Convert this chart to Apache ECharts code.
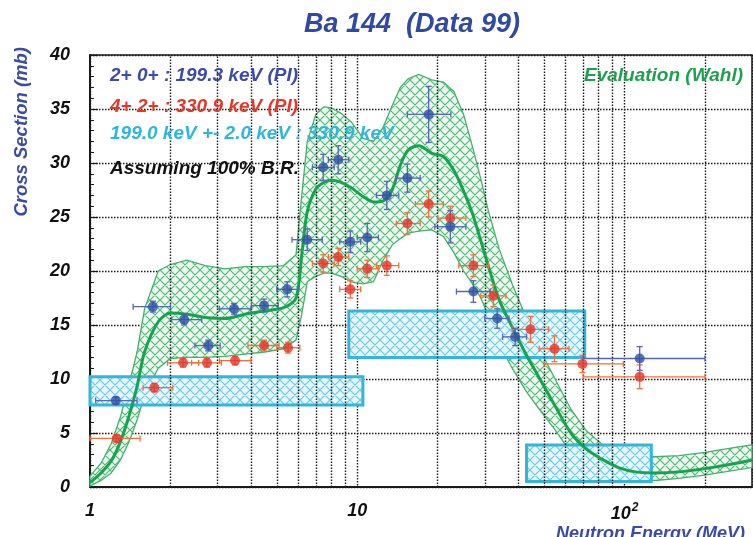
<!DOCTYPE html>
<html>
<head>
<meta charset="utf-8">
<script src="https://cdn.jsdelivr.net/npm/echarts@6/dist/echarts.min.js"></script>
<style>
html, body { margin: 0; padding: 0; background: #fff; }
#chart { width: 753px; height: 537px; }
</style>
</head>
<body>
<div id="chart"></div>
<script>
// Evaluation (Wahl): energy grid (MeV), central curve and uncertainty band (mb)
const evalEnergy = [1.0, 1.1, 1.2, 1.3, 1.4, 1.5, 1.6, 1.8, 2.0, 2.3, 2.7, 3.2, 3.8, 4.5, 5.3, 5.9, 6.2, 6.5, 7.0, 7.5, 8.0, 8.7, 9.5, 10.5, 11.5, 12.5, 13.5, 14.5, 15.5, 17, 19, 21, 23, 25, 27, 29, 31, 34, 38, 43, 48, 55, 63, 72, 82, 95, 110, 130, 160, 200, 250, 300];
const evalCenter = [0.4, 1.3, 2.4, 4.2, 6.6, 9.3, 12.5, 15.3, 16.1, 16.0, 15.7, 15.6, 16.0, 16.3, 16.6, 17.5, 21.5, 25.5, 27.6, 28.2, 28.4, 28.2, 27.7, 26.9, 26.4, 26.5, 27.5, 29.8, 31.2, 31.6, 30.9, 30.6, 29.3, 27.4, 25.3, 22.8, 20.4, 17.3, 14.8, 12.2, 10.1, 7.5, 5.0, 3.5, 2.6, 1.8, 1.4, 1.3, 1.4, 1.7, 2.1, 2.5];
const evalUpper = [1.0, 2.2, 4.0, 6.5, 9.5, 12.5, 16.5, 20.0, 20.6, 21.0, 20.5, 20.2, 20.4, 20.4, 20.5, 21.5, 27.0, 32.0, 34.5, 35.2, 35.1, 34.6, 33.8, 32.3, 32.0, 33.3, 35.3, 37.0, 37.8, 38.2, 37.7, 37.5, 36.6, 34.5, 31.5, 28.5, 25.5, 22.0, 18.8, 15.6, 12.8, 10.0, 7.2, 5.2, 4.0, 3.3, 2.9, 2.8, 2.9, 3.2, 3.6, 3.9];
const evalLower = [0.1, 0.6, 1.3, 2.5, 4.2, 6.2, 8.5, 11.0, 11.9, 12.0, 12.0, 12.1, 12.3, 12.5, 12.8, 13.6, 16.0, 19.0, 19.5, 19.8, 19.8, 19.5, 19.0, 18.8, 19.0, 21.0, 22.4, 23.0, 23.5, 23.7, 23.8, 23.2, 21.7, 20.0, 18.8, 17.5, 15.8, 13.2, 11.0, 8.8, 7.2, 5.3, 3.2, 2.2, 1.6, 1.0, 0.7, 0.6, 0.8, 1.1, 1.5, 1.8];

// 2+ -> 0+ : 199.3 keV line
const blueE     = [1.25, 1.72, 2.25, 2.77, 3.46, 4.48, 5.47, 6.5, 7.46, 8.49, 9.42, 10.9, 12.9, 15.4, 18.5, 22.3, 27.2, 33.4, 39, 114];
const blueSigma = [8.0, 16.7, 15.5, 13.1, 16.5, 16.8, 18.3, 22.9, 29.6, 30.3, 22.7, 23.1, 27.0, 28.6, 34.5, 24.1, 18.1, 15.6, 13.9, 11.9];
const blueELo   = [1.05, 1.45, 2.02, 2.47, 3.05, 4.02, 5.0, 5.7, 6.8, 7.8, 8.6, 10.0, 11.8, 14.0, 15.4, 19.5, 23.5, 30, 35, 70];
const blueEHi   = [1.5, 2.0, 2.62, 3.07, 4.0, 5.06, 6.0, 7.4, 8.2, 9.3, 10.3, 12.0, 14.3, 17.2, 22.4, 25.5, 31.5, 37, 43, 200];
const blueErr   = [0.3, 0.5, 0.5, 0.5, 0.5, 0.6, 0.7, 1.0, 1.2, 1.3, 1.0, 1.3, 1.3, 1.3, 2.6, 1.5, 1.0, 0.9, 0.8, 1.1];

// 4+ -> 2+ : 330.9 keV line
const redE     = [1.26, 1.74, 2.23, 2.74, 3.49, 4.48, 5.51, 7.46, 8.49, 9.42, 10.9, 12.9, 15.4, 18.5, 22.3, 27.2, 32.3, 44.5, 54.7, 69.6, 114];
const redSigma = [4.5, 9.2, 11.5, 11.5, 11.7, 13.1, 12.9, 20.7, 21.3, 18.3, 20.2, 20.5, 24.4, 26.2, 24.9, 20.5, 17.7, 14.6, 12.8, 11.4, 10.2];
const redELo   = [1.0, 1.58, 1.95, 2.4, 3.05, 3.9, 5.0, 6.8, 7.8, 8.6, 10.0, 11.8, 14.0, 16.5, 20.0, 24.0, 29.0, 38, 48, 50, 70];
const redEHi   = [1.54, 2.04, 2.55, 3.1, 4.0, 5.1, 6.1, 8.2, 9.3, 10.3, 12.0, 14.3, 17.2, 21.0, 25.5, 31.0, 36.0, 52, 62, 99, 200];
const redErr   = [0.3, 0.4, 0.4, 0.4, 0.4, 0.5, 0.5, 0.8, 0.8, 0.8, 0.8, 0.9, 1.0, 1.2, 1.1, 1.0, 1.0, 1.2, 1.2, 0.8, 1.1];

// 199.0 keV +- 2.0 keV : 330.9 keV (unresolved doublet), boxes in energy x cross section
const boxELo = [1.0, 9.3, 43];
const boxEHi = [10.5, 71, 126];
const boxSLo = [7.6, 12.0, 0.5];
const boxSHi = [10.2, 16.3, 3.9];

// axis values
const yTicks = [0, 5, 10, 15, 20, 25, 30, 35, 40];
const energyDecades = [1, 10, 100];
const energyMax = 300;
const gridEnergies = [2, 3, 4, 5, 6, 7, 8, 9, 20, 30, 40, 50, 60, 70, 80, 90, 200];

const FONT = '"Liberation Sans", Arial, sans-serif';
const BLUE_TXT = '#3a4aa6';

// cross-hatch tile used as a fill pattern
function hatchTile(bg, line, size, width) {
  const c = document.createElement('canvas');
  c.width = size; c.height = size;
  const g = c.getContext('2d');
  g.fillStyle = bg;
  g.fillRect(0, 0, size, size);
  g.strokeStyle = line;
  g.lineWidth = width;
  g.beginPath();
  for (let k = -1; k <= 1; k++) {
    g.moveTo(k * size, 0); g.lineTo(k * size + size, size);
    g.moveTo(k * size + size, 0); g.lineTo(k * size, size);
  }
  g.stroke();
  return c;
}
const bandPattern = { image: hatchTile('#eef8f0', '#52b978', 10, 1.2), repeat: 'repeat' };
const boxPattern = { image: hatchTile('#e8f7fb', '#6cc9e4', 10, 1.2), repeat: 'repeat' };

const chart = echarts.init(document.getElementById('chart'), null, { renderer: 'canvas' });

function errorBarSeries(E, S, lo, hi, err, barColor, z) {
  return {
    type: 'custom',
    coordinateSystem: 'cartesian2d',
    silent: true,
    z: z,
    encode: { x: [0, 2, 3], y: 1 },
    data: E.map((e, i) => [e, S[i], lo[i], hi[i], err[i]]),
    renderItem(params, api) {
      const e = api.value(0), s = api.value(1);
      const pL = api.coord([api.value(2), s]);
      const pR = api.coord([api.value(3), s]);
      const pT = api.coord([e, s + api.value(4)]);
      const pB = api.coord([e, s - api.value(4)]);
      const st = { stroke: barColor, lineWidth: 1.3 };
      const c = 3;
      return {
        type: 'group',
        children: [
          { type: 'line', shape: { x1: pL[0], y1: pL[1], x2: pR[0], y2: pR[1] }, style: st },
          { type: 'line', shape: { x1: pL[0], y1: pL[1] - c, x2: pL[0], y2: pL[1] + c }, style: st },
          { type: 'line', shape: { x1: pR[0], y1: pR[1] - c, x2: pR[0], y2: pR[1] + c }, style: st },
          { type: 'line', shape: { x1: pT[0], y1: pT[1], x2: pB[0], y2: pB[1] }, style: st },
          { type: 'line', shape: { x1: pT[0] - c, y1: pT[1], x2: pT[0] + c, y2: pT[1] }, style: st },
          { type: 'line', shape: { x1: pB[0] - c, y1: pB[1], x2: pB[0] + c, y2: pB[1] }, style: st }
        ]
      };
    }
  };
}

const dotted = { color: '#1a1a1a', width: 1.4, type: [1.5, 1.5] };
const labelFont = { fontFamily: FONT, fontSize: 18, fontWeight: 'bold', fontStyle: 'italic', color: '#111' };

const option = {
  animation: false,
  backgroundColor: '#ffffff',
  title: {
    text: 'Ba 144  (Data 99)',
    left: 299,
    top: 6,
    textStyle: { fontFamily: FONT, fontSize: 27, fontWeight: 'bold', fontStyle: 'italic', color: '#2f4aa0' }
  },
  grid: {
    left: 90, right: 1, top: 55, bottom: 50,
    outerBoundsMode: 'none',
    containLabel: false,
    show: true, borderColor: '#1a1a1a', borderWidth: 1.5
  },
  xAxis: {
    type: 'log',
    logBase: 10,
    min: energyDecades[0],
    max: energyMax,
    axisLine: { show: true, lineStyle: { color: '#1a1a1a', width: 2 } },
    axisTick: { show: false },
    splitLine: { show: true, lineStyle: dotted },
    axisLabel: {
      margin: 15,
      showMaxLabel: false,
      formatter: v => {
        if (energyDecades.indexOf(v) < 0) return '';
        return v === energyDecades[2] ? '{b|10}{s|2}' : '{b|' + v + '}';
      },
      rich: {
        b: labelFont,
        s: Object.assign({}, labelFont, { fontSize: 12, verticalAlign: 'top', padding: [0, 0, 12, 1] })
      }
    }
  },
  yAxis: {
    type: 'value',
    min: yTicks[0],
    max: yTicks[yTicks.length - 1],
    interval: yTicks[1] - yTicks[0],
    axisLine: { show: true, lineStyle: { color: '#1a1a1a', width: 2 } },
    axisTick: { show: true, inside: true, length: 8, lineStyle: { color: '#1a1a1a', width: 1.2 } },
    minorTick: { show: true, splitNumber: 5, length: 4, lineStyle: { color: '#1a1a1a', width: 1 } },
    splitLine: { show: true, lineStyle: dotted },
    axisLabel: Object.assign({ margin: 20 }, labelFont)
  },
  graphic: [
    { type: 'text', x: 22, y: 47, rotation: Math.PI / 2,
      style: { text: 'Cross Section (mb)', align: 'right', verticalAlign: 'middle',
               font: 'italic bold 18.5px ' + FONT, fill: BLUE_TXT } },
    { type: 'text', x: 556, y: 534,
      style: { text: 'Neutron Energy (MeV)', align: 'left', verticalAlign: 'middle',
               font: 'italic bold 18px ' + FONT, fill: BLUE_TXT } },
    { type: 'text', x: 110, y: 76, z: 20,
      style: { text: '2+ 0+ : 199.3 keV (PI)', verticalAlign: 'middle',
               font: 'italic bold 19px ' + FONT, fill: '#3d4aa8' } },
    { type: 'text', x: 110, y: 107, z: 20,
      style: { text: '4+ 2+ : 330.9 keV (PI)', verticalAlign: 'middle',
               font: 'italic bold 19px ' + FONT, fill: '#e2382a' } },
    { type: 'text', x: 110, y: 134, z: 20,
      style: { text: '199.0 keV +- 2.0 keV : 330.9 keV', verticalAlign: 'middle',
               font: 'italic bold 19px ' + FONT, fill: '#2fb6dc' } },
    { type: 'text', x: 110, y: 169, z: 20,
      style: { text: 'Assuming 100% B.R.', verticalAlign: 'middle',
               font: 'italic bold 19px ' + FONT, fill: '#111' } },
    { type: 'text', x: 584, y: 76, z: 20,
      style: { text: 'Evaluation (Wahl)', verticalAlign: 'middle',
               font: 'italic bold 19px ' + FONT, fill: '#1ea04e' } }
  ],
  series: [
    // minor energy grid lines (2..9 of every decade)
    {
      type: 'line',
      data: [],
      silent: true,
      markLine: {
        silent: true,
        symbol: 'none',
        label: { show: false },
        lineStyle: dotted,
        data: gridEnergies.map(v => ({ xAxis: v }))
      }
    },
    // evaluation uncertainty band
    {
      type: 'custom',
      coordinateSystem: 'cartesian2d',
      silent: true,
      z: 3,
      data: [[evalEnergy[0], evalCenter[0]]],
      renderItem(params, api) {
        const pts = [];
        for (let i = 0; i < evalEnergy.length; i++) pts.push(api.coord([evalEnergy[i], evalUpper[i]]));
        for (let i = evalEnergy.length - 1; i >= 0; i--) pts.push(api.coord([evalEnergy[i], evalLower[i]]));
        return {
          type: 'polygon',
          shape: { points: pts },
          style: { fill: bandPattern, stroke: '#45b06d', lineWidth: 1.3 }
        };
      }
    },
    // doublet boxes
    {
      type: 'custom',
      coordinateSystem: 'cartesian2d',
      silent: true,
      z: 4,
      encode: { x: [0, 1], y: [2, 3] },
      data: boxELo.map((e, i) => [e, boxEHi[i], boxSLo[i], boxSHi[i]]),
      renderItem(params, api) {
        const a = api.coord([api.value(0), api.value(3)]);
        const b = api.coord([api.value(1), api.value(2)]);
        return {
          type: 'rect',
          shape: { x: a[0], y: a[1], width: b[0] - a[0], height: b[1] - a[1] },
          style: { fill: boxPattern, stroke: '#33b5dc', lineWidth: 3 }
        };
      }
    },
    // evaluation central curve
    {
      type: 'line',
      z: 5,
      silent: true,
      symbol: 'none',
      smooth: 0.3,
      lineStyle: { color: '#16a34e', width: 3 },
      data: evalEnergy.map((e, i) => [e, evalCenter[i]])
    },
    errorBarSeries(redE, redSigma, redELo, redEHi, redErr, '#f0703c', 6),
    errorBarSeries(blueE, blueSigma, blueELo, blueEHi, blueErr, '#5566b5', 7),
    {
      type: 'scatter',
      z: 8,
      silent: true,
      symbol: 'circle',
      symbolSize: 10,
      itemStyle: { color: '#e3342a' },
      data: redE.map((e, i) => [e, redSigma[i]])
    },
    {
      type: 'scatter',
      z: 9,
      silent: true,
      symbol: 'circle',
      symbolSize: 10,
      itemStyle: { color: '#2f50a5' },
      data: blueE.map((e, i) => [e, blueSigma[i]])
    }
  ]
};

chart.setOption(option);
</script>
</body>
</html>
